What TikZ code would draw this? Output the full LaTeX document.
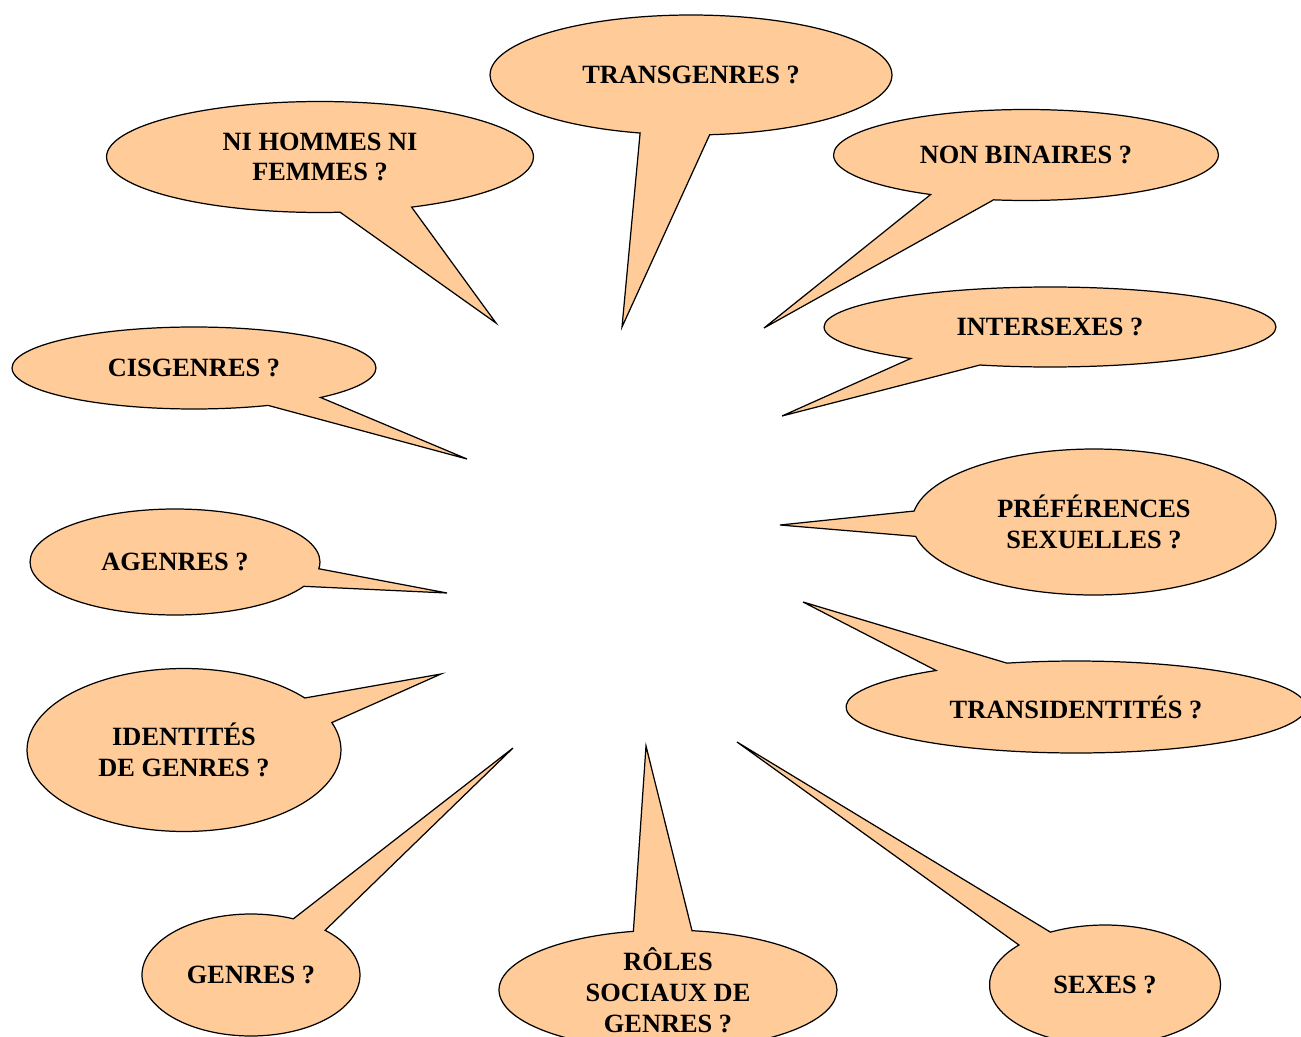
\documentclass[tikz,border=0pt]{standalone}
\usepackage{fontspec}
\setmainfont{Liberation Serif}
\usetikzlibrary{shapes}
\definecolor{peach}{HTML}{FFCC99}
\tikzset{
	bubble/.style={ellipse callout, draw, fill=peach, line width=0.7pt,
		inner sep=0pt, align=center, callout pointer arc=20,
		font=\bfseries\fontsize{15}{17.5}\selectfont}
}

\begin{document}
\begin{tikzpicture}[x=0.02cm, y=-0.02cm]
		\useasboundingbox (0,0) rectangle (1301,1037);
		\path (691,75) node(trans) [bubble, minimum width=8.04cm, minimum height=2.4cm, callout absolute pointer={(622,327)}] {TRANSGENRES ?};
		\path (320,157) node(nihf) [bubble, minimum width=8.54cm, minimum height=2.22cm, callout absolute pointer={(496,323)}] {NI HOMMES NI\\FEMMES ?};
		\path (1026,155) node(nonbin) [bubble, minimum width=7.7cm, minimum height=1.82cm, callout absolute pointer={(764,328)}] {NON BINAIRES ?};
		\path (1050,327) node(inter) [bubble, minimum width=9.04cm, minimum height=1.6cm, callout absolute pointer={(782,416)}] {INTERSEXES ?};
		\path (194,368) node(cis) [bubble, minimum width=7.28cm, minimum height=1.64cm, callout absolute pointer={(467,459)}] {CISGENRES ?};
		\path (1094,522) node(pref) [bubble, minimum width=7.28cm, minimum height=2.92cm, callout absolute pointer={(780,525)}] {PRÉFÉRENCES\\SEXUELLES ?};
		\path (175,562) node(agen) [bubble, minimum width=5.8cm, minimum height=2.12cm, callout absolute pointer={(447,593)}] {AGENRES ?};
		\path (1076,707) node(transid) [bubble, minimum width=9.2cm, minimum height=1.84cm, callout absolute pointer={(803,602)}] {TRANSIDENTITÉS ?};
		\path (184,750) node(ident) [bubble, minimum width=6.28cm, minimum height=3.26cm, callout absolute pointer={(441,674)}] {IDENTITÉS\\DE GENRES ?};
		\path (251,975) node(genres) [bubble, minimum width=4.36cm, minimum height=2.44cm, callout absolute pointer={(513,748)}] {GENRES ?};
		\path (668,990) node(roles) [bubble, minimum width=6.76cm, minimum height=2.32cm, callout absolute pointer={(646,746)}] {RÔLES\\SOCIAUX DE\\GENRES ?};
		\path (1105,985) node(sexes) [bubble, minimum width=4.62cm, minimum height=2.4cm, callout absolute pointer={(737,742)}] {SEXES ?};
	\end{tikzpicture}
\end{document}
